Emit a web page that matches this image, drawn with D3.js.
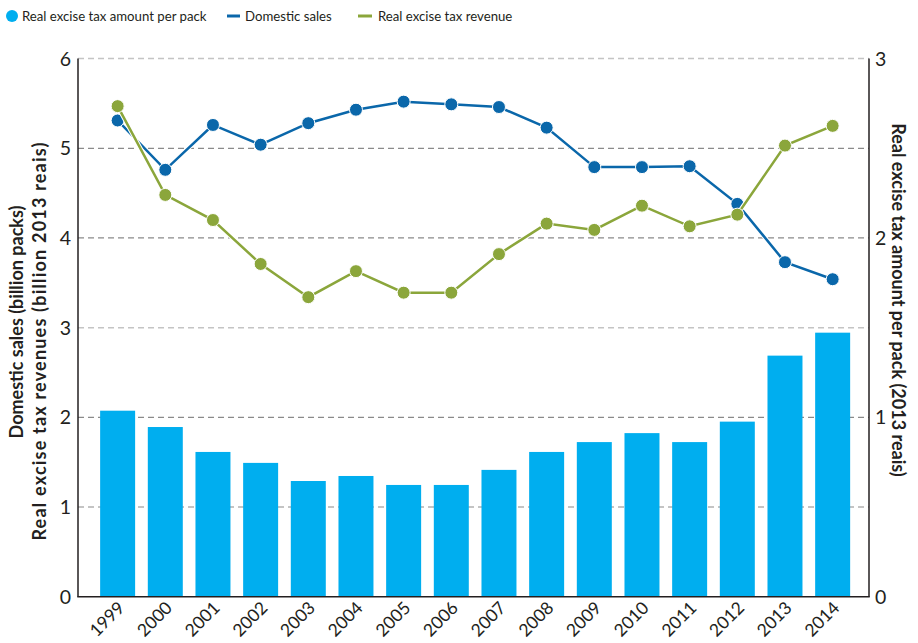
<!DOCTYPE html>
<html lang="en">
<head>
<meta charset="utf-8">
<script src="https://d3js.org/d3.v7.min.js"></script>
<style>
  body { margin: 0; background: #fff; }
  text { font-family: Lato, "Open Sans", sans-serif; fill: #231f20; }
</style>
</head>
<body>
<script type="text/javascript">

// chart values
var years = ["1999", "2000", "2001", "2002", "2003", "2004", "2005", "2006",
             "2007", "2008", "2009", "2010", "2011", "2012", "2013", "2014"];
// bars, right axis (2013 reais per pack)
var taxPerPack = [1.037, 0.946, 0.807, 0.746, 0.645, 0.673, 0.623, 0.623,
                  0.707, 0.807, 0.862, 0.912, 0.862, 0.976, 1.344, 1.472];
// lines, left axis
var domesticSales = [5.31, 4.76, 5.26, 5.04, 5.28, 5.43, 5.52, 5.49,
                     5.46, 5.23, 4.79, 4.79, 4.80, 4.38, 3.73, 3.54];
var taxRevenue = [5.47, 4.48, 4.20, 3.71, 3.34, 3.63, 3.39, 3.39,
                  3.82, 4.16, 4.09, 4.36, 4.13, 4.26, 5.03, 5.25];
var leftTicks = [0, 1, 2, 3, 4, 5, 6];
var rightTicks = [0, 1, 2, 3];

var width = 918;
var height = 643;

var barColor = "#00aeef";
var salesColor = "#0a67aa";
var revenueColor = "#8ba63b";

var x0 = 78, x1 = 869, yTop = 58.6, yBot = 596.7;

var svg = d3.select("body")
  .append("svg")
  .attr("width", width)
  .attr("height", height);

var x = d3.scaleBand()
  .domain(years)
  .range([x0, x1])
  .paddingInner(0.266)
  .paddingOuter(0.43)
  .align(0.54);

var yLeft = d3.scaleLinear().domain([0, 6]).range([yBot, yTop]);
var yRight = d3.scaleLinear().domain([0, 3]).range([yBot, yTop]);

function cx(i) { return x(years[i]) + x.bandwidth() / 2; }

// gridlines (the 3 and 6 lines are lighter in the original)
svg.append("g")
  .selectAll("line")
  .data(leftTicks.filter(function(d) { return d > 0; }))
  .enter()
  .append("line")
  .attr("x1", x0)
  .attr("x2", x1)
  .attr("y1", function(d) { return yLeft(d); })
  .attr("y2", function(d) { return yLeft(d); })
  .style("stroke", function(d) { return (d == 3 || d == 6) ? "#c4c4c4" : "#8a8a8a"; })
  .style("stroke-width", function(d) { return (d == 3 || d == 6) ? 1.5 : 1.2; })
  .style("stroke-dasharray", "6,4");

// bars
svg.append("g")
  .selectAll("rect")
  .data(taxPerPack)
  .enter()
  .append("rect")
  .attr("x", function(d, i) { return x(years[i]); })
  .attr("width", x.bandwidth())
  .attr("y", function(d) { return yRight(d); })
  .attr("height", function(d) { return yBot - yRight(d); })
  .style("fill", barColor);

// axes lines
var axisG = svg.append("g").style("stroke", "#231f20").style("stroke-width", 1.5);
axisG.append("line").attr("x1", x0).attr("x2", x0).attr("y1", yTop).attr("y2", yBot);
axisG.append("line").attr("x1", x1).attr("x2", x1).attr("y1", yTop).attr("y2", yBot);
axisG.append("line").attr("x1", x0 - 0.75).attr("x2", x1 + 0.75).attr("y1", yBot).attr("y2", yBot);

// tick labels
svg.append("g")
  .selectAll("text")
  .data(leftTicks)
  .enter()
  .append("text")
  .attr("x", 71)
  .attr("y", function(d) { return yLeft(d); })
  .attr("dy", "0.36em")
  .attr("text-anchor", "end")
  .style("font-size", "19.5px")
  .text(function(d) { return d; });

svg.append("g")
  .selectAll("text")
  .data(rightTicks)
  .enter()
  .append("text")
  .attr("x", 875)
  .attr("y", function(d) { return yRight(d); })
  .attr("dy", "0.36em")
  .style("font-size", "19.5px")
  .text(function(d) { return d; });

svg.append("g")
  .selectAll("text")
  .data(years)
  .enter()
  .append("text")
  .attr("transform", function(d) {
    return "translate(" + (x(d) + x.bandwidth() / 2 + 8) + ",609) rotate(-45)";
  })
  .attr("text-anchor", "end")
  .style("font-size", "17.5px")
  .text(function(d) { return d; });

// lines with dots
function drawSeries(values, color) {
  var line = d3.line()
    .x(function(d, i) { return cx(i); })
    .y(function(d) { return yLeft(d); });
  var g = svg.append("g");
  g.append("path")
    .attr("d", line(values))
    .style("fill", "none")
    .style("stroke", "#fff")
    .style("stroke-width", 4.5);
  g.append("path")
    .attr("d", line(values))
    .style("fill", "none")
    .style("stroke", color)
    .style("stroke-width", 2.5);
  g.selectAll("circle")
    .data(values)
    .enter()
    .append("circle")
    .attr("cx", function(d, i) { return cx(i); })
    .attr("cy", function(d) { return yLeft(d); })
    .attr("r", 6.5)
    .style("fill", color)
    .style("stroke", "#fff")
    .style("stroke-width", 1);
}
drawSeries(domesticSales, salesColor);
drawSeries(taxRevenue, revenueColor);

// axis titles
svg.append("text")
  .attr("transform", "translate(23,322) rotate(-90)")
  .attr("text-anchor", "middle")
  .style("font-size", "18px")
  .style("font-weight", "bold")
  .text("Domestic sales (billion packs)");

svg.append("text")
  .attr("transform", "translate(46,341) rotate(-90)")
  .attr("text-anchor", "middle")
  .style("font-size", "18px")
  .style("font-weight", "bold")
  .style("letter-spacing", "1.2px")
  .text("Real excise tax revenues (billion 2013 reais)");

svg.append("text")
  .attr("transform", "translate(892,300) rotate(90)")
  .attr("text-anchor", "middle")
  .style("font-size", "18px")
  .style("font-weight", "bold")
  .text("Real excise tax amount per pack (2013 reais)");

// legend
var legend = svg.append("g").style("font-size", "13.2px");
legend.append("circle").attr("cx", 12).attr("cy", 16).attr("r", 6).style("fill", barColor);
legend.append("text").attr("x", 22).attr("y", 21).text("Real excise tax amount per pack");
legend.append("line").attr("x1", 227).attr("x2", 240).attr("y1", 16).attr("y2", 16)
  .style("stroke", salesColor).style("stroke-width", 3);
legend.append("text").attr("x", 245).attr("y", 21).text("Domestic sales");
legend.append("line").attr("x1", 358).attr("x2", 372).attr("y1", 16).attr("y2", 16)
  .style("stroke", revenueColor).style("stroke-width", 3);
legend.append("text").attr("x", 378).attr("y", 21).text("Real excise tax revenue");

</script>
</body>
</html>
